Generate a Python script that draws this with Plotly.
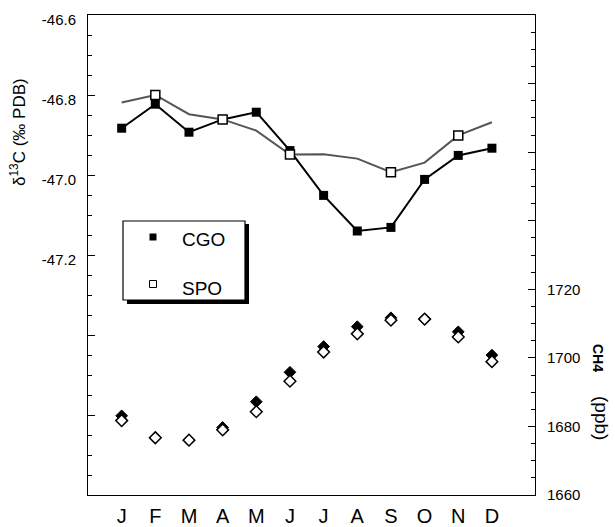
import plotly.graph_objects as go

months = ["J", "F", "M", "A", "M", "J", "J", "A", "S", "O", "N", "D"]
month_num = list(range(1, 13))

# delta13C (per mil PDB)
cgo_d13c = [-46.883, -46.823, -46.893, -46.861, -46.843, -46.939,
            -47.051, -47.140, -47.131, -47.011, -46.951, -46.933]
spo_d13c = [-46.819, -46.800, -46.848, -46.861, -46.889, -46.949,
            -46.948, -46.959, -46.993, -46.969, -46.901, -46.868]
spo_marked_idx = [1, 3, 5, 8, 10]  # months with open square markers

# CH4 (ppb)
cgo_ch4 = [1683.1, 1676.7, 1676.0, 1679.7, 1687.2, 1695.8,
           1703.3, 1709.1, 1711.7, 1711.3, 1707.6, 1700.8]
spo_ch4 = [1681.7, 1676.7, 1676.0, 1679.0, 1684.3, 1693.2,
           1701.7, 1707.0, 1711.0, 1711.3, 1706.1, 1698.9]

left_ticks = [-47.8, -47.6, -47.4, -47.2, -47.0, -46.8, -46.6]
left_ticktext = ["", "", "", "-47.2", "-47.0", "-46.8", "-46.6"]
right_ticks = [1660, 1680, 1700, 1720, 1740, 1760, 1780, 1800]
right_ticktext = ["1660", "1680", "1700", "1720", "", "", "", ""]

FONT = "Liberation Sans, Arial, Helvetica, sans-serif"

# plot-area geometry in pixels (for layout helpers)
W, H = 615, 527
L, R, T, B = 88, 535, 15, 495


def px(x):
    return (x - L) / (R - L)


def py(y):
    return (B - y) / (B - T)


fig = go.Figure()

fig.add_trace(go.Scatter(
    x=month_num, y=cgo_ch4, mode="markers", yaxis="y2",
    marker=dict(symbol="diamond", size=9, color="black",
                line=dict(color="black", width=1)),
    showlegend=False))
fig.add_trace(go.Scatter(
    x=month_num, y=spo_ch4, mode="markers", yaxis="y2",
    marker=dict(symbol="diamond", size=9, color="white",
                line=dict(color="black", width=1.5)),
    showlegend=False))

fig.add_trace(go.Scatter(
    x=month_num, y=cgo_d13c, mode="lines+markers",
    line=dict(color="black", width=2),
    marker=dict(symbol="square", size=9, color="black"),
    showlegend=False))
fig.add_trace(go.Scatter(
    x=month_num, y=spo_d13c, mode="lines",
    line=dict(color="#555555", width=2),
    showlegend=False))
fig.add_trace(go.Scatter(
    x=[month_num[i] for i in spo_marked_idx],
    y=[spo_d13c[i] for i in spo_marked_idx], mode="markers",
    marker=dict(symbol="square", size=9, color="white",
                line=dict(color="black", width=1.5)),
    showlegend=False))

shapes = [
    # legend shadow
    dict(type="rect", xref="paper", yref="paper",
         x0=px(127), x1=px(249), y0=py(304), y1=py(224),
         fillcolor="black", line=dict(width=0), layer="above"),
    # legend box
    dict(type="rect", xref="paper", yref="paper",
         x0=px(123), x1=px(245), y0=py(300), y1=py(221),
         fillcolor="white", line=dict(color="black", width=1.2), layer="above"),
    # legend markers
    dict(type="rect", xref="paper", yref="paper",
         x0=px(149.5), x1=px(156.5), y0=py(240.5), y1=py(233.5),
         fillcolor="black", line=dict(width=0), layer="above"),
    dict(type="rect", xref="paper", yref="paper",
         x0=px(149.5), x1=px(156.5), y0=py(287.5), y1=py(280.5),
         fillcolor="white", line=dict(color="black", width=1), layer="above"),
]

annotations = [
    dict(text="CGO", xref="paper", yref="paper", x=px(180), y=py(239),
         xanchor="left", yanchor="middle", showarrow=False,
         font=dict(family=FONT, size=19, color="black")),
    dict(text="SPO", xref="paper", yref="paper", x=px(180), y=py(288),
         xanchor="left", yanchor="middle", showarrow=False,
         font=dict(family=FONT, size=19, color="black")),
    dict(text="δ<sup>13</sup>C (‰ PDB)", xref="paper", yref="paper",
         x=px(18), y=py(132), textangle=-90, showarrow=False,
         xanchor="center", yanchor="middle",
         font=dict(family=FONT, size=17, color="black")),
    dict(text="<b>CH4</b>", xref="paper", yref="paper",
         x=px(598), y=py(358), textangle=90, showarrow=False,
         xanchor="center", yanchor="middle",
         font=dict(family=FONT, size=14, color="black")),
    dict(text="(ppb)", xref="paper", yref="paper",
         x=px(602), y=py(418), textangle=90, showarrow=False,
         xanchor="center", yanchor="middle",
         font=dict(family=FONT, size=19, color="black")),
]

fig.update_layout(
    width=W, height=H,
    margin=dict(l=L, r=W - R, t=T, b=H - B, autoexpand=False),
    paper_bgcolor="white", plot_bgcolor="white",
    font=dict(family=FONT, color="black"),
    showlegend=False,
    xaxis=dict(
        range=[0, 13.28], tickvals=month_num, ticktext=months,
        showline=True, linecolor="black", linewidth=1, mirror=True,
        ticks="", showgrid=False, zeroline=False, automargin=False,
        tickfont=dict(family=FONT, size=20, color="black"),
        ticklabelstandoff=3,
    ),
    yaxis=dict(
        range=[-47.8, -46.6], tickvals=left_ticks, ticktext=left_ticktext,
        showline=True, linecolor="black", linewidth=1, automargin=False,
        ticks="inside", ticklen=7, tickwidth=1, tickcolor="black",
        minor=dict(dtick=0.05, ticks="inside", ticklen=4, tickwidth=1,
                   tickcolor="black", showgrid=False),
        showgrid=False, zeroline=False,
        tickfont=dict(family=FONT, size=15, color="black"),
        ticklabelstandoff=8, ticklabelshift=5,
    ),
    yaxis2=dict(
        range=[1660, 1800], tickvals=right_ticks, ticktext=right_ticktext,
        overlaying="y", side="right", automargin=False,
        showline=True, linecolor="black", linewidth=1,
        ticks="inside", ticklen=7, tickwidth=1, tickcolor="black",
        minor=dict(dtick=5, ticks="inside", ticklen=4, tickwidth=1,
                   tickcolor="black", showgrid=False),
        showgrid=False, zeroline=False,
        tickfont=dict(family=FONT, size=15, color="black"),
        ticklabelstandoff=8,
    ),
    shapes=shapes,
    annotations=annotations,
)

fig.write_html(
    "out.html",
    config={"displayModeBar": False},
    post_script="document.body.style.margin='0';document.body.style.overflow='hidden';",
)
